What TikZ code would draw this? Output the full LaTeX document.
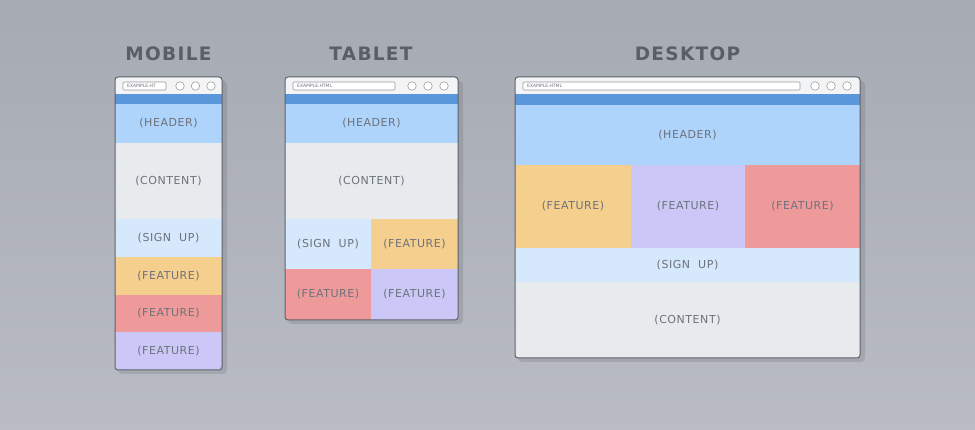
\documentclass[tikz,border=0pt]{standalone}
\usepackage{fontspec}
\setmainfont{DejaVu Sans}
\newfontfamily\titlefont[LetterSpace=7]{DejaVu Sans Bold}
\newfontfamily\labelfont[LetterSpace=5]{DejaVu Sans}
\usetikzlibrary{calc}
\definecolor{bgtop}{HTML}{A6AAB3}
\definecolor{bgbot}{HTML}{B9BCC5}
\definecolor{frameline}{HTML}{5E626A}
\definecolor{toolbar}{HTML}{F3F4F6}
\definecolor{bandblue}{HTML}{5B97DB}
\definecolor{headerc}{HTML}{AED4FB}
\definecolor{contentc}{HTML}{E8EBEE}
\definecolor{signupc}{HTML}{D6E8FC}
\definecolor{orangec}{HTML}{F5CF8E}
\definecolor{redc}{HTML}{EF9A9A}
\definecolor{purplec}{HTML}{CBC8F8}
\definecolor{titlec}{HTML}{5A5E66}
\definecolor{labelc}{HTML}{6E727B}
\tikzset{
  title/.style={font=\titlefont\fontsize{18.5}{18.5}\selectfont, text=titlec, inner sep=0pt},
  lbl/.style={font=\labelfont\fontsize{11}{11}\selectfont, text=labelc, inner sep=0pt},
  urltext/.style={font=\fontsize{4.5}{4.5}\selectfont, text=labelc, inner sep=0pt, anchor=west},
  urlbar/.style={fill=white, draw=gray!80, line width=0.6pt, rounded corners=1pt},
  dot/.style={circle, draw=gray!75, fill=white, line width=0.6pt, minimum size=8.5pt, inner sep=0pt},
  framebox/.style={draw=frameline, line width=1pt, rounded corners=3pt},
  shadowbox/.style={fill=black, opacity=0.10, rounded corners=4pt},
}
\begin{document}
\begin{tikzpicture}[x=1pt, y=-1pt]
\useasboundingbox (0,0) rectangle (975,430);
% backdrop
\shade[top color=bgtop, bottom color=bgbot] (0,0) rectangle (975,430);

% Mobile window
\fill[shadowbox] (118,81) rectangle (227,374);
\begin{scope}
  \clip[rounded corners=3pt] (115,77) rectangle (222,370);
  \fill[toolbar] (115,77) rectangle (222,94);
  \fill[bandblue] (115,94) rectangle (222,104);
  \fill[headerc] (115,104) rectangle (222,143);
  \fill[contentc] (115,143) rectangle (222,219);
  \fill[signupc] (115,219) rectangle (222,257);
  \fill[orangec] (115,257) rectangle (222,295);
  \fill[redc] (115,295) rectangle (222,332);
  \fill[purplec] (115,332) rectangle (222,370);
\end{scope}
\draw[framebox] (115,77) rectangle (222,370);
\draw[urlbar] (123,82) rectangle (166,90);
\node[urltext] (murl) at (127,86) {EXAMPLE.HT};
\node[dot] (md1) at (180,86) {};
\node[dot] (md2) at (195.5,86) {};
\node[dot] (md3) at (211,86) {};
\node[title] (mtitle) at (168.5,54) {MOBILE};
\node[lbl] (mhead) at (168.5,123.5) {(HEADER)};
\node[lbl] (mcont) at (168.5,181) {(CONTENT)};
\node[lbl] (msign) at (168.5,238) {(SIGN\ \ UP)};
\node[lbl] (mfeat1) at (168.5,276) {(FEATURE)};
\node[lbl] (mfeat2) at (168.5,313.5) {(FEATURE)};
\node[lbl] (mfeat3) at (168.5,351) {(FEATURE)};

% Tablet window
\fill[shadowbox] (288,81) rectangle (463,324);
\begin{scope}
  \clip[rounded corners=3pt] (285,77) rectangle (458,320);
  \fill[toolbar] (285,77) rectangle (458,94);
  \fill[bandblue] (285,94) rectangle (458,104);
  \fill[headerc] (285,104) rectangle (458,143);
  \fill[contentc] (285,143) rectangle (458,219);
  \fill[signupc] (285,219) rectangle (371,269);
  \fill[orangec] (371,219) rectangle (458,269);
  \fill[redc] (285,269) rectangle (371,320);
  \fill[purplec] (371,269) rectangle (458,320);
\end{scope}
\draw[framebox] (285,77) rectangle (458,320);
\draw[urlbar] (293,82) rectangle (395,90);
\node[urltext] (turl) at (297,86) {EXAMPLE.HTML};
\node[dot] (td1) at (412,86) {};
\node[dot] (td2) at (428,86) {};
\node[dot] (td3) at (444,86) {};
\node[title] (ttitle) at (371,54) {TABLET};
\node[lbl] (thead) at (371.5,123.5) {(HEADER)};
\node[lbl] (tcont) at (371.5,181) {(CONTENT)};
\node[lbl] (tsign) at (328,244) {(SIGN\ \ UP)};
\node[lbl] (tfeat1) at (414.5,244) {(FEATURE)};
\node[lbl] (tfeat2) at (328,294.5) {(FEATURE)};
\node[lbl] (tfeat3) at (414.5,294.5) {(FEATURE)};

% Desktop window
\fill[shadowbox] (518,81) rectangle (865,362);
\begin{scope}
  \clip[rounded corners=3pt] (515,77) rectangle (860,358);
  \fill[toolbar] (515,77) rectangle (860,94);
  \fill[bandblue] (515,94) rectangle (860,105);
  \fill[headerc] (515,105) rectangle (860,165);
  \fill[orangec] (515,165) rectangle (631,248);
  \fill[purplec] (631,165) rectangle (745,248);
  \fill[redc] (745,165) rectangle (860,248);
  \fill[signupc] (515,248) rectangle (860,282);
  \fill[contentc] (515,282) rectangle (860,358);
\end{scope}
\draw[framebox] (515,77) rectangle (860,358);
\draw[urlbar] (523,82) rectangle (800,90);
\node[urltext] (durl) at (527,86) {EXAMPLE.HTML};
\node[dot] (dd1) at (815,86) {};
\node[dot] (dd2) at (831,86) {};
\node[dot] (dd3) at (847,86) {};
\node[title] (dtitle) at (687.5,54) {DESKTOP};
\node[lbl] (dhead) at (687.5,135) {(HEADER)};
\node[lbl] (dfeat1) at (573,206.5) {(FEATURE)};
\node[lbl] (dfeat2) at (688,206.5) {(FEATURE)};
\node[lbl] (dfeat3) at (802.5,206.5) {(FEATURE)};
\node[lbl] (dsign) at (687.5,265) {(SIGN\ \ UP)};
\node[lbl] (dcont) at (687.5,320) {(CONTENT)};
\end{tikzpicture}
\end{document}
